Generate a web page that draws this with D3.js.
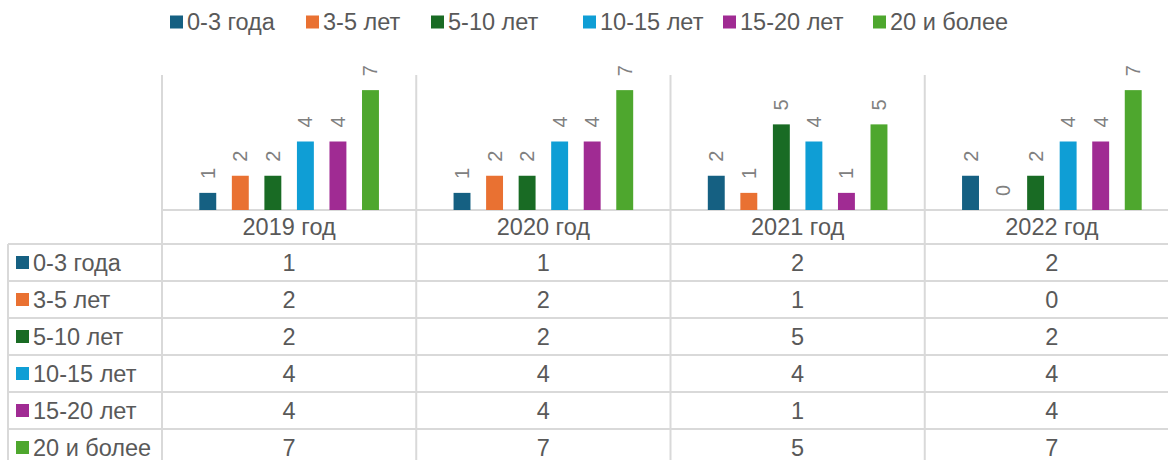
<!DOCTYPE html>
<html>
<head>
<meta charset="utf-8">
<script src="https://cdn.jsdelivr.net/npm/d3@7"></script>
<style>
  body { margin: 0; background: #fff; }
  text { font-family: "Liberation Sans", Arial, sans-serif; }
</style>
</head>
<body>
<div id="chart"></div>
<script>
// chart data
const years = ["2019 год", "2020 год", "2021 год", "2022 год"]
const groups = ["0-3 года", "3-5 лет", "5-10 лет", "10-15 лет", "15-20 лет", "20 и более"]
const colors = ["#156082", "#E97132", "#196B24", "#0F9ED5", "#A02B93", "#4EA72E"]
const values = [
    [1, 1, 2, 2],   // 0-3 года
    [2, 2, 1, 0],   // 3-5 лет
    [2, 2, 5, 2],   // 5-10 лет
    [4, 4, 4, 4],   // 10-15 лет
    [4, 4, 1, 4],   // 15-20 лет
    [7, 7, 5, 7]    // 20 и более
]
const yMax = 8

const W = 1168, H = 460
const gridColor = "#d9d9d9"
const textColor = "#595959"
const fs = 23.5

const svg = d3.select("#chart")
    .append("svg")
    .attr("width", W)
    .attr("height", H)

// scales
const x0 = d3.scaleBand()
    .domain(years)
    .range([162, 1179])

const step = x0.step()
const x1 = d3.scaleBand()
    .domain(groups)
    .range([29.5, step - 29.5])
    .paddingInner(0.48)
    .paddingOuter(0.24)

const y = d3.scaleLinear()
    .domain([0, yMax])
    .range([210, 73])

const tableTop = 244
const rowH = 37
const row = d3.scaleBand()
    .domain(groups)
    .range([tableTop, tableTop + rowH * groups.length])

// legend
const legendX = [170, 306, 431, 583, 723, 873]
const legend = svg.append("g")
groups.forEach((name, i) => {
    const lg = legend.append("g").attr("transform", `translate(${legendX[i]}, 22)`)
    lg.append("rect")
        .attr("x", 0).attr("y", -6.5)
        .attr("width", 13).attr("height", 13)
        .attr("fill", colors[i])
    lg.append("text")
        .attr("x", 17).attr("y", 0)
        .attr("dy", "0.35em")
        .attr("font-size", fs)
        .attr("fill", textColor)
        .text(name)
})

// grid lines of the data table
const grid = svg.append("g").attr("stroke", gridColor).attr("stroke-width", 2)
const tableBottom = tableTop + rowH * groups.length
years.forEach(yr => {
    grid.append("line")
        .attr("x1", x0(yr)).attr("x2", x0(yr))
        .attr("y1", 75).attr("y2", tableBottom)
})
grid.append("line")
    .attr("x1", x0.range()[1]).attr("x2", x0.range()[1])
    .attr("y1", 75).attr("y2", tableBottom)
grid.append("line")
    .attr("x1", x0.range()[0]).attr("x2", W)
    .attr("y1", y(0)).attr("y2", y(0))
groups.forEach(gr => {
    grid.append("line")
        .attr("x1", 8).attr("x2", W)
        .attr("y1", row(gr)).attr("y2", row(gr))
})
grid.append("line")
    .attr("x1", 8).attr("x2", 8)
    .attr("y1", tableTop).attr("y2", tableBottom)

// bars
const yearG = svg.selectAll(".year")
    .data(years)
    .enter().append("g")
    .attr("class", "year")
    .attr("transform", d => `translate(${x0(d)}, 0)`)

yearG.each(function(yr, j) {
    const g = d3.select(this)
    groups.forEach((gr, i) => {
        const v = values[i][j]
        g.append("rect")
            .attr("x", x1(gr))
            .attr("y", y(v))
            .attr("width", x1.bandwidth())
            .attr("height", y(0) - y(v))
            .attr("fill", colors[i])
        const lx = x1(gr) + x1.bandwidth() / 2
        const ly = y(v) - 14
        g.append("text")
            .attr("transform", `translate(${lx}, ${ly}) rotate(-90)`)
            .attr("dy", "0.35em")
            .attr("text-anchor", "start")
            .attr("font-size", 20)
            .attr("fill", "#808080")
            .text(v)
    })
    // category label
    g.append("text")
        .attr("x", step / 2)
        .attr("y", (y(0) + tableTop) / 2)
        .attr("dy", "0.35em")
        .attr("text-anchor", "middle")
        .attr("font-size", fs)
        .attr("fill", textColor)
        .text(yr)
    // table values
    groups.forEach((gr, i) => {
        g.append("text")
            .attr("x", step / 2)
            .attr("y", row(gr) + rowH / 2)
            .attr("dy", "0.35em")
            .attr("text-anchor", "middle")
            .attr("font-size", fs)
            .attr("fill", textColor)
            .text(values[i][j])
    })
})

// row headers with legend keys
groups.forEach((gr, i) => {
    const cy = row(gr) + rowH / 2
    svg.append("rect")
        .attr("x", 16).attr("y", cy - 6.5)
        .attr("width", 13).attr("height", 13)
        .attr("fill", colors[i])
    svg.append("text")
        .attr("x", 33).attr("y", cy)
        .attr("dy", "0.35em")
        .attr("font-size", fs)
        .attr("fill", textColor)
        .text(gr)
})
</script>
</body>
</html>
